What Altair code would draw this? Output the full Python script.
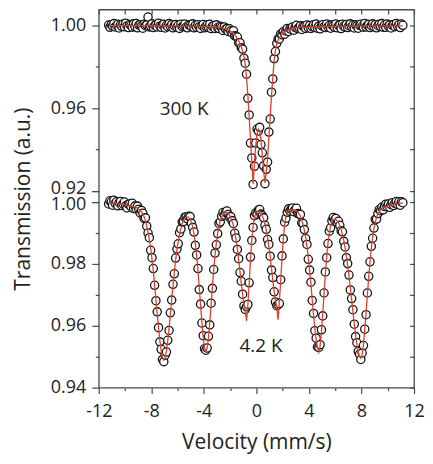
import altair as alt
import pandas as pd

# ---- data (velocity in mm/s, relative transmission) ----
VELOCITY = [
    -11.25, -11.15, -11.05, -10.95, -10.85, -10.75, -10.65, -10.55, -10.45, -10.35,
    -10.25, -10.15, -10.05, -9.95, -9.85, -9.75, -9.65, -9.55, -9.45, -9.35,
    -9.25, -9.15, -9.05, -8.95, -8.85, -8.75, -8.65, -8.55, -8.45, -8.35,
    -8.25, -8.15, -8.05, -7.95, -7.85, -7.75, -7.65, -7.55, -7.45, -7.35,
    -7.25, -7.15, -7.05, -6.95, -6.85, -6.75, -6.65, -6.55, -6.45, -6.35,
    -6.25, -6.15, -6.05, -5.95, -5.85, -5.75, -5.65, -5.55, -5.45, -5.35,
    -5.25, -5.15, -5.05, -4.95, -4.85, -4.75, -4.65, -4.55, -4.45, -4.35,
    -4.25, -4.15, -4.05, -3.95, -3.85, -3.75, -3.65, -3.55, -3.45, -3.35,
    -3.25, -3.15, -3.05, -2.95, -2.85, -2.75, -2.65, -2.55, -2.45, -2.35,
    -2.25, -2.15, -2.05, -1.95, -1.85, -1.75, -1.65, -1.55, -1.45, -1.35,
    -1.25, -1.15, -1.05, -0.95, -0.85, -0.75, -0.65, -0.55, -0.45, -0.35,
    -0.25, -0.15, -0.05, 0.05, 0.15, 0.25, 0.35, 0.45, 0.55, 0.65,
    0.75, 0.85, 0.95, 1.05, 1.15, 1.25, 1.35, 1.45, 1.55, 1.65,
    1.75, 1.85, 1.95, 2.05, 2.15, 2.25, 2.35, 2.45, 2.55, 2.65,
    2.75, 2.85, 2.95, 3.05, 3.15, 3.25, 3.35, 3.45, 3.55, 3.65,
    3.75, 3.85, 3.95, 4.05, 4.15, 4.25, 4.35, 4.45, 4.55, 4.65,
    4.75, 4.85, 4.95, 5.05, 5.15, 5.25, 5.35, 5.45, 5.55, 5.65,
    5.75, 5.85, 5.95, 6.05, 6.15, 6.25, 6.35, 6.45, 6.55, 6.65,
    6.75, 6.85, 6.95, 7.05, 7.15, 7.25, 7.35, 7.45, 7.55, 7.65,
    7.75, 7.85, 7.95, 8.05, 8.15, 8.25, 8.35, 8.45, 8.55, 8.65,
    8.75, 8.85, 8.95, 9.05, 9.15, 9.25, 9.35, 9.45, 9.55, 9.65,
    9.75, 9.85, 9.95, 10.05, 10.15, 10.25, 10.35, 10.45, 10.55, 10.65,
    10.75, 10.85, 10.95, 11.05, 11.15,
]

T300_DATA = [
    1.0002, .9991, 1.0004, .9997, 1.0009, .9993, 1.0000, 1.0006, .9988, 1.0003,
    .9996, 1.0007, .9994, 1.0011, .9998, .9990, 1.0005, 1.0001, .9992, 1.0008,
    .9995, 1.0010, .9989, 1.0002, 1.0004, .9997, .9987, 1.0006, .9999, 1.0003,
    1.0041, .9993, .9996, 1.0008, .9990, 1.0000, 1.0004, .9993, 1.0011, .9997,
    .9991, 1.0003, 1.0006, .9988, 1.0001, .9994, 1.0009, .9996, 1.0004, .9989,
    .9999, 1.0005, .9992, 1.0001, .9986, 1.0006, .9994, .9999, 1.0007, .9992,
    .9989, 1.0003, 1.0000, .9995, 1.0008, .9989, 1.0001, .9992, 1.0004, .9994,
    .9986, 1.0000, 1.0005, .9989, .9996, 1.0002, .9992, 1.0006, .9985, .9996,
    .9999, .9986, 1.0003, .9990, .9986, .9996, .9992, .9976, .9993, .9982,
    .9985, .9971, .9984, .9974, .9964, .9975, .9950, .9948, .9944, .9917,
    .9917, .9893, .9886, .9842, .9818, .9765, .9648, .9568, .9432, .9360,
    .9232, .9320, .9432, .9500, .9490, .9508, .9425, .9385, .9322, .9236,
    .9305, .9340, .9485, .9548, .9678, .9742, .9840, .9874, .9914, .9936,
    .9935, .9959, .9955, .9970, .9958, .9974, .9986, .9971, .9985, .9981,
    .9993, .9977, .9991, 1.0001, .9985, .9990, .9999, .9981, .9997, .9994,
    .9986, 1.0002, .9989, 1.0000, .9986, .9995, 1.0003, .9990, 1.0007, .9987,
    .9997, .9984, .9999, 1.0004, .9994, .9990, 1.0007, .9993, 1.0000, .9987,
    1.0003, .9998, .9991, 1.0007, .9989, 1.0000, 1.0003, .9985, 1.0006, .9996,
    .9993, 1.0005, .9990, .9999, 1.0008, .9994, 1.0002, .9988, 1.0003, .9998,
    .9987, 1.0001, 1.0006, .9996, .9992, 1.0010, .9993, 1.0001, 1.0005, .9990,
    .9999, 1.0008, .9994, 1.0004, .9989, 1.0000, 1.0006, .9995, 1.0009, .9992,
    1.0002, .9991, 1.0007, .9997, 1.0003, .9988, 1.0001, 1.0005, .9994, 1.0010,
    .9996, 1.0004, .9990, 1.0007, 1.0001,
]

T300_FIT = [
    .9999, .9999, .9999, .9999, .9999, .9999, .9999, .9999, .9999, .9999,
    .9999, .9999, .9999, .9999, .9999, .9999, .9999, .9999, .9999, .9999,
    .9999, .9999, .9999, .9999, .9999, .9999, .9999, .9999, .9999, .9999,
    .9999, .9999, .9999, .9998, .9998, .9998, .9998, .9998, .9998, .9998,
    .9998, .9998, .9998, .9998, .9998, .9998, .9998, .9998, .9998, .9998,
    .9998, .9998, .9998, .9997, .9997, .9997, .9997, .9997, .9997, .9997,
    .9997, .9997, .9997, .9996, .9996, .9996, .9996, .9996, .9996, .9996,
    .9996, .9996, .9996, .9995, .9995, .9995, .9995, .9995, .9994, .9994,
    .9994, .9994, .9993, .9992, .9991, .9990, .9989, .9987, .9985, .9983,
    .9981, .9978, .9975, .9972, .9968, .9963, .9956, .9947, .9937, .9926,
    .9912, .9896, .9876, .9850, .9812, .9750, .9660, .9560, .9450, .9340,
    .9235, .9335, .9420, .9475, .9500, .9490, .9445, .9375, .9300, .9240,
    .9290, .9360, .9460, .9560, .9660, .9750, .9830, .9880, .9910, .9928,
    .9940, .9950, .9958, .9964, .9968, .9972, .9975, .9978, .9981, .9983,
    .9985, .9986, .9988, .9989, .9990, .9991, .9992, .9992, .9992, .9992,
    .9992, .9992, .9992, .9994, .9994, .9994, .9994, .9994, .9994, .9994,
    .9994, .9994, .9994, .9996, .9996, .9996, .9996, .9996, .9996, .9996,
    .9996, .9996, .9996, .9997, .9997, .9997, .9997, .9997, .9997, .9997,
    .9997, .9997, .9997, .9997, .9997, .9997, .9997, .9997, .9997, .9997,
    .9997, .9997, .9997, .9998, .9998, .9998, .9998, .9998, .9998, .9998,
    .9998, .9998, .9998, .9998, .9998, .9998, .9998, .9998, .9998, .9998,
    .9998, .9998, .9998, .9998, .9998, .9998, .9998, .9998, .9998, .9998,
    .9998, .9998, .9998, .9998, .9998,
]

T42_DATA = [
    .9994, 1.0004, 1.0000, .9990, 1.0006, .9996, 1.0001, .9988, .9998, 1.0002,
    .9989, .9994, 1.0000, .9988, .9981, .9993, .9994, .9985, .9996, .9979,
    .9987, .9978, .9987, .9977, .9965, .9973, .9964, .9947, .9949, .9922,
    .9900, .9885, .9844, .9820, .9785, .9731, .9681, .9645, .9594, .9548,
    .9524, .9491, .9484, .9505, .9515, .9553, .9585, .9642, .9683, .9734,
    .9768, .9819, .9848, .9865, .9901, .9913, .9936, .9937, .9951, .9952,
    .9946, .9954, .9953, .9932, .9918, .9903, .9860, .9829, .9785, .9717,
    .9670, .9609, .9568, .9526, .9521, .9528, .9566, .9603, .9673, .9721,
    .9782, .9835, .9862, .9898, .9931, .9936, .9954, .9966, .9958, .9967,
    .9971, .9960, .9951, .9953, .9940, .9931, .9899, .9884, .9847, .9817,
    .9772, .9744, .9702, .9664, .9653, .9662, .9669, .9739, .9822, .9876,
    .9918, .9956, .9965, .9961, .9974, .9976, .9961, .9956, .9949, .9925,
    .9912, .9879, .9863, .9825, .9780, .9756, .9710, .9677, .9665, .9668,
    .9672, .9749, .9826, .9881, .9935, .9948, .9967, .9978, .9971, .9977,
    .9981, .9969, .9976, .9980, .9963, .9961, .9960, .9933, .9931, .9911,
    .9882, .9863, .9815, .9780, .9741, .9682, .9640, .9584, .9560, .9532,
    .9530, .9539, .9587, .9632, .9706, .9774, .9820, .9866, .9906, .9917,
    .9939, .9950, .9942, .9947, .9933, .9938, .9925, .9907, .9904, .9873,
    .9855, .9820, .9801, .9764, .9716, .9688, .9652, .9605, .9565, .9545,
    .9517, .9508, .9491, .9512, .9536, .9589, .9636, .9706, .9760, .9807,
    .9857, .9883, .9916, .9944, .9945, .9963, .9976, .9972, .9983, .9975,
    .9986, .9993, .9985, .9994, .9983, .9992, .9998, .9989, .9996, 1.0002,
    .9992, 1.0001, .9990, 1.0001, .9998,
]

T42_FIT = [
    .9998, .9998, .9998, .9997, .9997, .9997, .9996, .9996, .9995, .9995,
    .9994, .9993, .9992, .9991, .9990, .9989, .9988, .9987, .9986, .9985,
    .9984, .9982, .9980, .9977, .9973, .9968, .9962, .9953, .9940, .9923,
    .9903, .9879, .9851, .9816, .9777, .9733, .9686, .9638, .9593, .9552,
    .9519, .9497, .9489, .9497, .9518, .9551, .9592, .9636, .9684, .9730,
    .9773, .9812, .9846, .9873, .9896, .9915, .9930, .9941, .9948, .9951,
    .9952, .9950, .9945, .9935, .9919, .9896, .9865, .9827, .9779, .9724,
    .9667, .9611, .9563, .9528, .9517, .9527, .9562, .9611, .9666, .9724,
    .9780, .9829, .9867, .9899, .9923, .9940, .9951, .9959, .9964, .9966,
    .9966, .9963, .9958, .9949, .9938, .9923, .9904, .9878, .9849, .9814,
    .9776, .9737, .9701, .9670, .9648, .9615, .9667, .9735, .9813, .9878,
    .9923, .9950, .9963, .9968, .9970, .9968, .9964, .9955, .9943, .9929,
    .9909, .9885, .9856, .9823, .9785, .9747, .9711, .9681, .9660, .9620,
    .9679, .9745, .9820, .9883, .9927, .9953, .9966, .9971, .9974, .9975,
    .9976, .9975, .9973, .9971, .9967, .9962, .9954, .9941, .9927, .9909,
    .9885, .9856, .9820, .9779, .9733, .9684, .9636, .9591, .9554, .9529,
    .9515, .9534, .9578, .9638, .9704, .9767, .9823, .9867, .9900, .9922,
    .9935, .9942, .9944, .9944, .9940, .9933, .9924, .9911, .9895, .9876,
    .9853, .9825, .9795, .9760, .9724, .9685, .9645, .9607, .9571, .9540,
    .9516, .9500, .9495, .9506, .9539, .9587, .9643, .9701, .9757, .9808,
    .9851, .9887, .9914, .9935, .9950, .9962, .9969, .9975, .9979, .9981,
    .9983, .9985, .9987, .9989, .9990, .9991, .9992, .9993, .9994, .9995,
    .9995, .9996, .9996, .9997, .9997,
]

X_TICKS = [-12, -10, -8, -6, -4, -2, 0, 2, 4, 6, 8, 10, 12]
Y_TICKS_300 = [0.92, 0.94, 0.96, 0.98, 1.00]
Y_TICKS_42 = [0.94, 0.95, 0.96, 0.97, 0.98, 0.99, 1.00]
PANEL_LABELS_300 = [{"label": "300 K", "v": -5.5, "t": 0.9595}]
PANEL_LABELS_42 = [{"label": "4.2 K", "v": 0.35, "t": 0.9536}]

df300 = pd.DataFrame({"v": VELOCITY, "t": T300_DATA, "fit": T300_FIT})
df42 = pd.DataFrame({"v": VELOCITY, "t": T42_DATA, "fit": T42_FIT})

# ---- styling ----
W, H = 316, 379
FONT = "Open Sans"
AX = "#4a4a4a"
TXT = "#222222"
RED = "#e0402e"
LAB = 18
TIT = 21

# top panel: 1.00 sits 16 px below the frame, 0.04 per 83 px
y300_top = 1.00771
y300_bottom = y300_top - H * 0.04 / 83
# bottom panel: 0.94 on the x axis, 0.02 per 62 px
y42_bottom = 0.94
y42_top = y42_bottom + H * 0.02 / 62

xscale = alt.Scale(domain=[-12, 12], nice=False, zero=False)
y300 = alt.Scale(domain=[y300_bottom, y300_top], nice=False, zero=False)
y42 = alt.Scale(domain=[y42_bottom, y42_top], nice=False, zero=False)

common = dict(grid=False, domain=False, tickColor=AX, tickWidth=1.2,
              labelFont=FONT, labelFontSize=LAB, labelColor=TXT,
              labelOverlap=False)

x_bottom = alt.Axis(
    orient="bottom", values=X_TICKS, title="Velocity (mm/s)",
    tickSize={"condition": {"test": "datum.value % 4 != 0", "value": 3}, "value": 6},
    labelExpr="datum.value % 4 == 0 ? '' + datum.value : ''",
    labelPadding=9, labelFlush=False,
    titleFont=FONT, titleFontSize=TIT, titleFontWeight="normal", titleColor=TXT,
    titlePadding=11, **common)
x_top = alt.Axis(orient="top", values=X_TICKS, title=None, labels=False,
                 tickSize=4.5, offset=-4.5, **common)

# Left axis of the top panel: 0.96 and 1.00 labelled, 0.94/0.98 minor ticks.
y300_left = alt.Axis(
    orient="left", values=Y_TICKS_300, title="Transmission (a.u.)",
    tickSize={"condition": {"test": "round(datum.value * 100) % 4 != 0", "value": 3.5}, "value": 7},
    labelExpr="round(datum.value * 100) % 4 == 0 && datum.value > 0.93 ? format(datum.value, '.2f') : ''",
    labelPadding=6, titleFont=FONT, titleFontSize=TIT, titleFontWeight="normal",
    titleColor=TXT, titlePadding=17, **common)
# 0.92 label on its own axis, nudged up so it does not collide with the 1.00 below
y300_low = alt.Axis(orient="left", values=[0.92], title=None, tickSize=7,
                    labelPadding=6, labelOffset=-2.5, format=".2f", **common)
y300_right = alt.Axis(orient="right", values=Y_TICKS_300, title=None, labels=False,
                      tickSize=4.5, offset=-4.5, **common)

y42_left = alt.Axis(
    orient="left", values=Y_TICKS_42, title=None,
    tickSize={"condition": {"test": "round(datum.value * 100) % 2 != 0", "value": 3.5}, "value": 7},
    labelExpr="round(datum.value * 100) % 2 == 0 && datum.value < 0.995 ? format(datum.value, '.2f') : ''",
    labelPadding=6, **common)
# 1.00 label of the bottom panel, nudged down a little
y42_high = alt.Axis(orient="left", values=[1.00], title=None, tickSize=7,
                    labelPadding=6, labelOffset=2.5, format=".2f", **common)
y42_right = alt.Axis(orient="right", values=Y_TICKS_42, title=None, labels=False,
                     tickSize=4.5, offset=-4.5, **common)

point_style = dict(shape="circle", filled=True, fill="white", stroke="#151515",
                   strokeWidth=1.3, size=68, opacity=1)

# ---- 300 K panel ----
pts300 = alt.Chart(df300).mark_point(**point_style).encode(
    x=alt.X("v:Q", scale=xscale, axis=x_bottom),
    y=alt.Y("t:Q", scale=y300, axis=y300_left),
)
fit300 = alt.Chart(df300).mark_line(color=RED, strokeWidth=1.3).encode(
    x=alt.X("v:Q", scale=xscale, axis=x_top),
    y=alt.Y("fit:Q", scale=y300, axis=y300_right),
)
txt300 = alt.Chart(pd.DataFrame(PANEL_LABELS_300)).mark_text(
    font=FONT, fontSize=19, color=TXT).encode(
    x=alt.X("v:Q", scale=xscale, axis=None),
    y=alt.Y("t:Q", scale=y300, axis=y300_low),
    text="label:N",
)
layer300 = alt.layer(pts300, fit300, txt300).resolve_axis(x="independent", y="independent")

# ---- 4.2 K panel ----
pts42 = alt.Chart(df42).mark_point(**point_style).encode(
    x=alt.X("v:Q", scale=xscale, axis=None),
    y=alt.Y("t:Q", scale=y42, axis=y42_left),
)
fit42 = alt.Chart(df42).mark_line(color=RED, strokeWidth=1.3).encode(
    x=alt.X("v:Q", scale=xscale, axis=None),
    y=alt.Y("fit:Q", scale=y42, axis=y42_right),
)
txt42 = alt.Chart(pd.DataFrame(PANEL_LABELS_42)).mark_text(
    font=FONT, fontSize=19, color=TXT).encode(
    x=alt.X("v:Q", scale=xscale, axis=None),
    y=alt.Y("t:Q", scale=y42, axis=y42_high),
    text="label:N",
)
layer42 = alt.layer(pts42, fit42, txt42).resolve_axis(x="independent", y="independent")

chart = (
    alt.layer(layer300, layer42)
    .resolve_scale(y="independent")
    .resolve_axis(x="independent", y="independent")
    .properties(width=W, height=H,
                padding={"left": 4, "top": 0, "right": 0, "bottom": 5})
    .configure_view(stroke=AX, strokeWidth=1.3)
    .configure_axis(grid=False)
)

chart.save("out.html", embed_options={"renderer": "svg", "actions": False})
